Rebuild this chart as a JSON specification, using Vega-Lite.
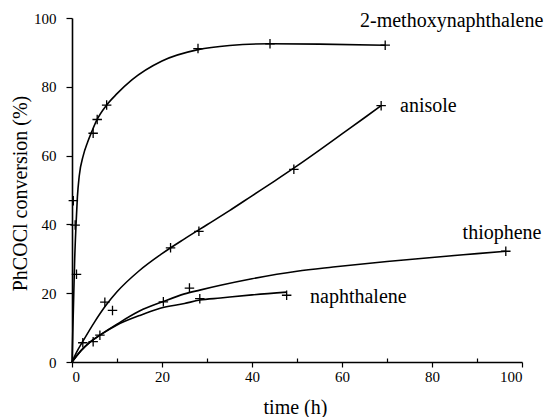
{
  "$schema": "https://vega.github.io/schema/vega-lite/v6.json",
  "width": 450,
  "height": 344,
  "autosize": {"type": "none"},
  "padding": {"left": 72, "top": 18, "right": 22, "bottom": 55},
  "background": "white",
  "config": {
    "view": {"stroke": null},
    "font": "Liberation Serif",
    "text": {"font": "Liberation Serif"},
    "axis": {"labelFont": "Liberation Serif", "titleFont": "Liberation Serif", "domainColor": "black", "tickColor": "black", "labelColor": "black", "titleColor": "black", "grid": false, "titleFontWeight": "normal"}
  },
  "datasets": {
    "curves": [
      {"series": "2-methoxynaphthalene", "t": 0, "y": 0},
      {"series": "2-methoxynaphthalene", "t": 0.3, "y": 15},
      {"series": "2-methoxynaphthalene", "t": 0.6, "y": 30},
      {"series": "2-methoxynaphthalene", "t": 0.9, "y": 40},
      {"series": "2-methoxynaphthalene", "t": 1.2, "y": 48},
      {"series": "2-methoxynaphthalene", "t": 1.6, "y": 54},
      {"series": "2-methoxynaphthalene", "t": 2.5, "y": 60},
      {"series": "2-methoxynaphthalene", "t": 3.5, "y": 64},
      {"series": "2-methoxynaphthalene", "t": 4.5, "y": 67.3},
      {"series": "2-methoxynaphthalene", "t": 5.5, "y": 70.3},
      {"series": "2-methoxynaphthalene", "t": 7.7, "y": 74.7},
      {"series": "2-methoxynaphthalene", "t": 10, "y": 78},
      {"series": "2-methoxynaphthalene", "t": 13.3, "y": 82},
      {"series": "2-methoxynaphthalene", "t": 20, "y": 87.5},
      {"series": "2-methoxynaphthalene", "t": 28, "y": 90.8},
      {"series": "2-methoxynaphthalene", "t": 35, "y": 92},
      {"series": "2-methoxynaphthalene", "t": 44, "y": 92.5},
      {"series": "2-methoxynaphthalene", "t": 55, "y": 92.4},
      {"series": "2-methoxynaphthalene", "t": 69.6, "y": 92.1},
      {"series": "anisole", "t": 0, "y": 0},
      {"series": "anisole", "t": 1, "y": 2.8},
      {"series": "anisole", "t": 2.5, "y": 6.2},
      {"series": "anisole", "t": 5, "y": 11.6},
      {"series": "anisole", "t": 7.5, "y": 16.4},
      {"series": "anisole", "t": 10, "y": 20.4},
      {"series": "anisole", "t": 15, "y": 26.6},
      {"series": "anisole", "t": 20, "y": 31.5},
      {"series": "anisole", "t": 25, "y": 35.8},
      {"series": "anisole", "t": 30, "y": 39.9},
      {"series": "anisole", "t": 35, "y": 44},
      {"series": "anisole", "t": 40, "y": 48.3},
      {"series": "anisole", "t": 45, "y": 52.6},
      {"series": "anisole", "t": 50, "y": 57},
      {"series": "anisole", "t": 55, "y": 61.6},
      {"series": "anisole", "t": 60, "y": 66.3},
      {"series": "anisole", "t": 65, "y": 71},
      {"series": "anisole", "t": 68.7, "y": 74.5},
      {"series": "thiophene", "t": 0, "y": 0},
      {"series": "thiophene", "t": 2, "y": 3.3},
      {"series": "thiophene", "t": 4, "y": 5.8},
      {"series": "thiophene", "t": 6.2, "y": 7.8},
      {"series": "thiophene", "t": 10, "y": 11},
      {"series": "thiophene", "t": 15, "y": 14.8},
      {"series": "thiophene", "t": 20.3, "y": 17.6},
      {"series": "thiophene", "t": 25, "y": 19.8},
      {"series": "thiophene", "t": 28.4, "y": 20.9},
      {"series": "thiophene", "t": 33, "y": 22.3},
      {"series": "thiophene", "t": 40, "y": 24.2},
      {"series": "thiophene", "t": 50, "y": 26.4},
      {"series": "thiophene", "t": 58, "y": 27.6},
      {"series": "thiophene", "t": 70, "y": 29.2},
      {"series": "thiophene", "t": 80, "y": 30.4},
      {"series": "thiophene", "t": 90, "y": 31.5},
      {"series": "thiophene", "t": 96.4, "y": 32.2},
      {"series": "naphthalene", "t": 0, "y": 0},
      {"series": "naphthalene", "t": 2, "y": 3.3},
      {"series": "naphthalene", "t": 4, "y": 5.8},
      {"series": "naphthalene", "t": 6.2, "y": 7.8},
      {"series": "naphthalene", "t": 9.9, "y": 10.7},
      {"series": "naphthalene", "t": 15, "y": 13.5},
      {"series": "naphthalene", "t": 19.6, "y": 15.6},
      {"series": "naphthalene", "t": 25, "y": 17},
      {"series": "naphthalene", "t": 28.4, "y": 18},
      {"series": "naphthalene", "t": 33, "y": 18.6},
      {"series": "naphthalene", "t": 40, "y": 19.5},
      {"series": "naphthalene", "t": 47.7, "y": 20.3}
    ],
    "points": [
      {"series": "2-methoxynaphthalene", "t": 0.3, "y": 46.9},
      {"series": "2-methoxynaphthalene", "t": 0.7, "y": 39.8},
      {"series": "2-methoxynaphthalene", "t": 1.0, "y": 25.5},
      {"series": "2-methoxynaphthalene", "t": 4.7, "y": 66.5},
      {"series": "2-methoxynaphthalene", "t": 5.6, "y": 70.5},
      {"series": "2-methoxynaphthalene", "t": 7.7, "y": 74.7},
      {"series": "2-methoxynaphthalene", "t": 28, "y": 91.1},
      {"series": "2-methoxynaphthalene", "t": 44, "y": 92.5},
      {"series": "2-methoxynaphthalene", "t": 69.6, "y": 92.1},
      {"series": "anisole", "t": 2.4, "y": 5.6},
      {"series": "anisole", "t": 7.3, "y": 17.4},
      {"series": "anisole", "t": 9.0, "y": 15},
      {"series": "anisole", "t": 21.9, "y": 33.2},
      {"series": "anisole", "t": 28.2, "y": 38},
      {"series": "anisole", "t": 49.3, "y": 56},
      {"series": "anisole", "t": 68.7, "y": 74.5},
      {"series": "thiophene", "t": 6.2, "y": 7.8},
      {"series": "thiophene", "t": 20.3, "y": 17.5},
      {"series": "thiophene", "t": 26.1, "y": 21.5},
      {"series": "thiophene", "t": 96.4, "y": 32.2},
      {"series": "naphthalene", "t": 4.7, "y": 5.9},
      {"series": "naphthalene", "t": 28.4, "y": 18.4},
      {"series": "naphthalene", "t": 47.7, "y": 19.4}
    ],
    "labels": [
      {"name": "2-methoxynaphthalene", "t": 64, "y": 97.4},
      {"name": "anisole", "t": 72.9, "y": 72.7},
      {"name": "thiophene", "t": 86.8, "y": 35.7},
      {"name": "naphthalene", "t": 52.9, "y": 17.1}
    ]
  },
  "layer": [
    {
      "data": {"name": "curves"},
      "mark": {"type": "line", "color": "black", "strokeWidth": 1.6, "interpolate": "monotone", "clip": false},
      "encoding": {
        "x": {
          "field": "t", "type": "quantitative",
          "scale": {"domain": [0, 100], "nice": false},
          "axis": {
            "values": [0, 10, 20, 30, 40, 50, 60, 70, 80, 90, 100],
            "labelExpr": "datum.value % 20 === 0 ? datum.label : ''",
            "tickSize": {"condition": {"test": "datum.value % 20 === 0", "value": 5}, "value": -4},
            "labelPadding": 2,
            "labelFont": "Liberation Serif",
            "labelFontSize": 15,
            "domainWidth": 1.6,
            "tickWidth": 1.2,
            "title": "time (h)",
            "titleFont": "Liberation Serif",
            "titleFontWeight": "normal",
            "titleFontSize": 20,
            "titleX": 223,
            "titleY": 51,
            "titleBaseline": "alphabetic",
            "titleAlign": "center"
          }
        },
        "y": {
          "field": "y", "type": "quantitative",
          "scale": {"domain": [0, 100], "nice": false},
          "axis": {
            "values": [0, 10, 20, 30, 40, 50, 60, 70, 80, 90, 100],
            "labelExpr": "datum.value % 20 === 0 ? datum.label : ''",
            "tickSize": 6,
            "labelPadding": 10,
            "labelFont": "Liberation Serif",
            "labelFontSize": 15,
            "domainWidth": 1.6,
            "tickWidth": 1.2,
            "title": "PhCOCl conversion (%)",
            "titleFont": "Liberation Serif",
            "titleFontWeight": "normal",
            "titleFontSize": 20,
            "titleX": -52,
            "titleY": 175,
            "titleBaseline": "middle",
            "titleAlign": "center",
            "titleAngle": -90
          }
        },
        "detail": {"field": "series"}
      }
    },
    {
      "data": {"name": "points"},
      "mark": {"type": "point", "shape": "M-1,0L1,0M0,-1L0,1", "stroke": "black", "strokeWidth": 1.3, "size": 90, "filled": false, "opacity": 1},
      "encoding": {
        "x": {"field": "t", "type": "quantitative"},
        "y": {"field": "y", "type": "quantitative"}
      }
    },
    {
      "data": {"name": "labels"},
      "mark": {"type": "text", "align": "left", "baseline": "alphabetic", "fontSize": 20, "font": "Liberation Serif", "color": "black"},
      "encoding": {
        "x": {"field": "t", "type": "quantitative"},
        "y": {"field": "y", "type": "quantitative"},
        "text": {"field": "name"}
      }
    }
  ]
}
